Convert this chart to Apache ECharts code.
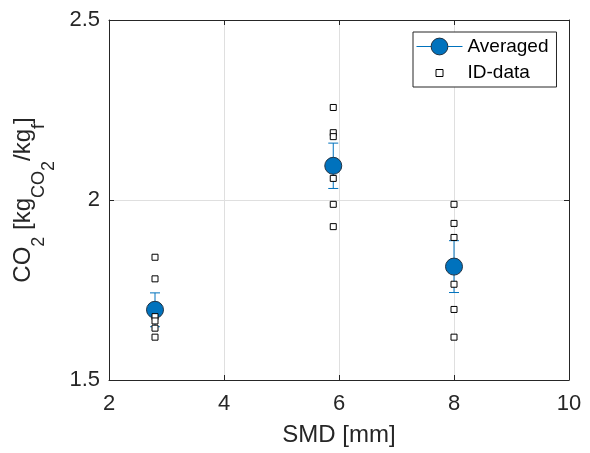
<!DOCTYPE html>
<html>
<head>
<meta charset="utf-8">
<script src="https://cdn.jsdelivr.net/npm/echarts@6/dist/echarts.min.js"></script>
<style>html,body{margin:0;padding:0;background:#fff}#c{width:590px;height:453px}</style>
</head>
<body>
<div id="c"></div>
<script>
// SMD positions [mm]
var smd = [2.8, 5.9, 8.0];
// Averaged CO2 [kgCO2/kgf]
var avgCO2 = [1.695, 2.095, 1.815];
// Error half-widths
var errCO2 = [0.047, 0.063, 0.072];
// Individual ID-data per SMD group
var idGroup1 = [1.841, 1.781, 1.676, 1.664, 1.644, 1.619];
var idGroup2 = [2.257, 2.187, 2.176, 2.060, 1.988, 1.926];
var idGroup3 = [1.988, 1.935, 1.896, 1.766, 1.696, 1.619];
var xTicks = [2, 4, 6, 8, 10];
var yTicks = [1.5, 2, 2.5];

var FONT = 'Liberation Sans, Arial, sans-serif';
var AX = '#262626';
var BLUE = '#0072BD';

var idGroups = [idGroup1, idGroup2, idGroup3];
var idData = [];
idGroups.forEach(function (g, i) { g.forEach(function (v) { idData.push([smd[i], v]); }); });
var avgData = smd.map(function (x, i) { return [x, avgCO2[i]]; });
var errData = smd.map(function (x, i) { return [x, avgCO2[i], errCO2[i]]; });

var chart = echarts.init(document.getElementById('c'), null, {renderer: 'canvas'});

function baseX(pos, showLab) {
  return {
    type: 'value', position: pos, min: xTicks[0], max: xTicks[xTicks.length - 1], interval: 2,
    axisLine: {show: true, onZero: false, lineStyle: {color: AX, width: 1}},
    axisTick: {show: true, inside: true, length: 5, lineStyle: {color: AX}},
    axisLabel: {show: showLab, fontSize: 22, color: AX, fontFamily: FONT, margin: 13},
    splitLine: {show: showLab, lineStyle: {color: '#dfdfdf', width: 1}}
  };
}
function baseY(pos, showLab) {
  return {
    type: 'value', position: pos, min: yTicks[0], max: yTicks[yTicks.length - 1], interval: 0.5,
    axisLine: {show: true, onZero: false, lineStyle: {color: AX, width: 1}},
    axisTick: {show: true, inside: true, length: 5, lineStyle: {color: AX}},
    axisLabel: {show: showLab, fontSize: 22, color: AX, fontFamily: FONT, margin: 9},
    splitLine: {show: showLab, lineStyle: {color: '#dfdfdf', width: 1}}
  };
}
var xb = baseX('bottom', true);
xb.name = 'SMD [mm]';
xb.nameLocation = 'middle';
xb.nameGap = 43;
xb.nameTextStyle = {fontSize: 24, color: AX, fontFamily: FONT};
var xt = baseX('top', false);
var yl = baseY('left', true);
yl.name = '{m|CO}{s|2}{m| [kg}{s|CO}{ss|2}{m|/kg}{s|f}{m|]}';
yl.nameLocation = 'middle';
yl.nameGap = 49;
yl.nameTextStyle = {
  color: AX, fontFamily: FONT,
  rich: {
    m: {fontSize: 24, lineHeight: 24, padding: [0, 0, 23, 0], color: AX, fontFamily: FONT},
    s: {fontSize: 18, lineHeight: 18, padding: [19, 0, 10, 0], color: AX, fontFamily: FONT},
    ss: {fontSize: 18, lineHeight: 18, padding: [29, 0, 0, 0], color: AX, fontFamily: FONT}
  }
};
var yr = baseY('right', false);

chart.setOption({
  animation: false,
  backgroundColor: '#fff',
  grid: {left: 109, top: 20, width: 460, height: 360, containLabel: false},
  xAxis: [xb, xt],
  yAxis: [yl, yr],
  legend: {
    orient: 'vertical', left: 413, top: 32,
    padding: [5, 8, 3, 3], itemGap: 6, itemWidth: 46, itemHeight: 21,
    backgroundColor: '#fff', borderColor: AX, borderWidth: 1, borderRadius: 0,
    textStyle: {fontSize: 19, color: '#000', fontFamily: FONT},
    selectedMode: false,
    data: [
      {name: 'Averaged', lineStyle: {color: BLUE, width: 1, opacity: 1},
       itemStyle: {color: BLUE, borderColor: '#223344', borderWidth: 1}},
      {name: 'ID-data', icon: 'path://M0,0M21,21M7,7H14V14H7Z',
       itemStyle: {color: '#fff', borderColor: '#000', borderWidth: 1}}
    ]
  },
  series: [
    {
      type: 'custom', name: 'err', z: 2,
      data: errData,
      renderItem: function (params, api) {
        var x = api.value(0), y = api.value(1), e = api.value(2);
        var pt = api.coord([x, y + e]);
        var pb = api.coord([x, y - e]);
        var w = 5;
        var st = {stroke: BLUE, lineWidth: 1};
        return {type: 'group', children: [
          {type: 'line', shape: {x1: pt[0], y1: pt[1], x2: pb[0], y2: pb[1]}, style: st},
          {type: 'line', shape: {x1: pt[0] - w, y1: pt[1], x2: pt[0] + w, y2: pt[1]}, style: st},
          {type: 'line', shape: {x1: pb[0] - w, y1: pb[1], x2: pb[0] + w, y2: pb[1]}, style: st}
        ]};
      }
    },
    {
      type: 'line', name: 'Averaged', z: 3,
      data: avgData,
      symbol: 'circle', symbolSize: 17, showAllSymbol: true,
      lineStyle: {width: 0, opacity: 0},
      itemStyle: {color: BLUE, borderColor: '#223344', borderWidth: 1}
    },
    {
      type: 'scatter', name: 'ID-data', z: 4,
      data: idData,
      symbol: 'rect', symbolSize: 6,
      itemStyle: {color: '#fff', borderColor: '#000', borderWidth: 1, opacity: 1}
    }
  ]
});
</script>
</body>
</html>
